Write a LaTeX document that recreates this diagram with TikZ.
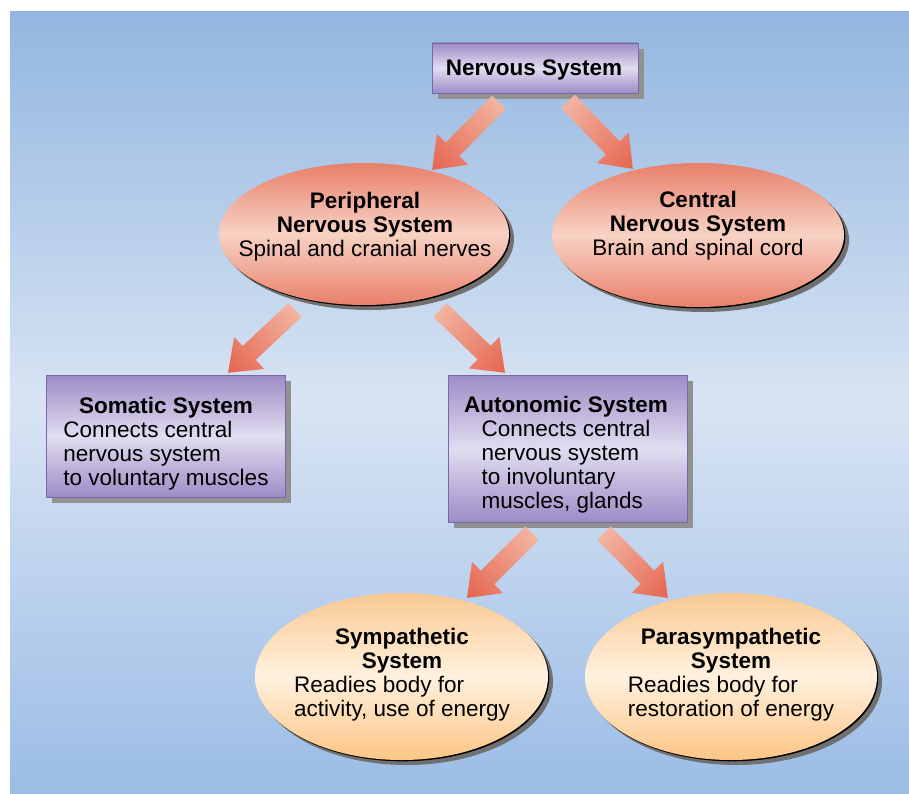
\documentclass[tikz,border=0pt]{standalone}
\usepackage{fontspec}
\setmainfont{Liberation Sans}
\usetikzlibrary{shapes.geometric,shadows,calc}
\definecolor{bgtop}{RGB}{147,182,224}
\definecolor{bgmid}{RGB}{216,228,243}
\definecolor{bgbot}{RGB}{155,188,230}
\definecolor{purpedge}{RGB}{156,140,198}
\definecolor{purpmid}{RGB}{226,221,241}
\definecolor{purpline}{RGB}{120,104,170}
\definecolor{salmedge}{RGB}{232,128,106}
\definecolor{salmmid}{RGB}{248,210,196}
\definecolor{peachtop}{RGB}{248,201,146}
\definecolor{peachmid}{RGB}{255,241,222}
\definecolor{peachbot}{RGB}{252,197,133}
\definecolor{arrowlight}{RGB}{242,180,160}
\definecolor{arrowdark}{RGB}{229,101,80}
\definecolor{shgray}{RGB}{112,112,112}
\definecolor{shgraybox}{RGB}{145,145,145}
\newcommand\bigarrow[2]{%
  \path let \p1=(#1), \p2=(#2),
    \n1={atan2(\y2-\y1,\x2-\x1)}, \n2={veclen(\x2-\x1,\y2-\y1)} in
    \pgfextra{\xdef\arA{\n1}\xdef\arL{\n2}\xdef\arX{\x1}\xdef\arY{\y1}};
  \begin{scope}[transform canvas={shift={(\arX,\arY)},rotate=\arA}]
    \shade[left color=arrowlight, right color=arrowdark]
      (0,-9.5) -- ({\arL-29},-9.5) -- ({\arL-29},-22) -- (\arL,0)
      -- ({\arL-29},22) -- ({\arL-29},9.5) -- (0,9.5) -- cycle;
  \end{scope}}
\newcommand\boxtext[2]{{\bfseries #1}\\\begin{tabular}[t]{@{}l@{}}#2\end{tabular}}
\tikzset{
  txt/.style={font=\fontsize{22.5}{24}\selectfont, align=center, inner sep=0pt},
  purplebox/.style={txt, rectangle, draw=purpline, line width=0.5pt,
    top color=purpedge, bottom color=purpedge, middle color=purpmid,
    general shadow={fill=shgraybox, shadow xshift=6pt, shadow yshift=-6pt},
    general shadow={fill=black, shadow xshift=1.3pt, shadow yshift=-1.3pt}},
  salmonoval/.style={ellipse, inner sep=0pt,
    top color=salmedge, bottom color=salmedge, middle color=salmmid,
    general shadow={fill=shgray, shadow xshift=5pt, shadow yshift=-5pt},
    general shadow={fill=black, shadow xshift=1.3pt, shadow yshift=-1.3pt}},
  peachoval/.style={ellipse, inner sep=0pt,
    top color=peachtop, bottom color=peachbot, middle color=peachmid,
    general shadow={fill=shgray, shadow xshift=5pt, shadow yshift=-5pt},
    general shadow={fill=black, shadow xshift=1.3pt, shadow yshift=-1.3pt}},
}
\begin{document}
\begin{tikzpicture}[x=1pt,y=-1pt]
\useasboundingbox (0,0) rectangle (909,794);
\shade[top color=bgtop, bottom color=bgbot, middle color=bgmid] (10,12) rectangle (909,794);

% nodes
\node[purplebox, minimum width=206pt, minimum height=50pt] (ns) at (535,68) {};
\node[txt, text depth=0pt] (nsT) at (534,68) {\bfseries Nervous System};
\node[salmonoval, minimum width=290pt, minimum height=142pt] (pns) at (364,234) {};
\node[txt] (pnsT) at (365,226.5) {\bfseries Peripheral\\\bfseries Nervous System\\Spinal and cranial nerves};
\node[salmonoval, minimum width=292pt, minimum height=144pt] (cns) at (698,235) {};
\node[txt] (cnsT) at (698,225.5) {\bfseries Central\\\bfseries Nervous System\\Brain and spinal cord};
\node[purplebox, minimum width=239pt, minimum height=122pt] (som) at (165.5,436) {};
\node[txt] (somT) at (166,444.5) {\boxtext{Somatic System}{Connects central\\nervous system\\to voluntary muscles}};
\node[purplebox, minimum width=239pt, minimum height=147pt] (aut) at (567.5,448.5) {};
\node[txt] (autT) at (566,455.5) {\boxtext{Autonomic System}{Connects central\\nervous system\\to involuntary\\muscles, glands}};
\node[peachoval, minimum width=293pt, minimum height=167pt] (sym) at (401.5,676.5) {};
\node[txt] (symT) at (402,676) {\bfseries Sympathetic\\\boxtext{System}{Readies body for\\activity, use of energy}};
\node[peachoval, minimum width=292pt, minimum height=167pt] (par) at (731,676.5) {};
\node[txt] (parT) at (731,676) {\bfseries Parasympathetic\\\boxtext{System}{Readies body for\\restoration of energy}};

% arrows
\bigarrow{$(ns.south)+(-36,9)$}{$(pns.center)+(68,-64)$}
\bigarrow{$(ns.south)+(33,8)$}{$(cns.center)+(-65,-66)$}
\bigarrow{$(pns.center)+(-69,76)$}{$(som.north)+(62.5,-2)$}
\bigarrow{$(pns.center)+(76,76)$}{$(aut.north)+(-62.5,-2)$}
\bigarrow{$(aut.south)+(-35.5,11)$}{$(sym.center)+(65.5,-78.5)$}
\bigarrow{$(aut.south)+(36.5,11)$}{$(par.center)+(-63,-78.5)$}
\end{tikzpicture}
\end{document}
